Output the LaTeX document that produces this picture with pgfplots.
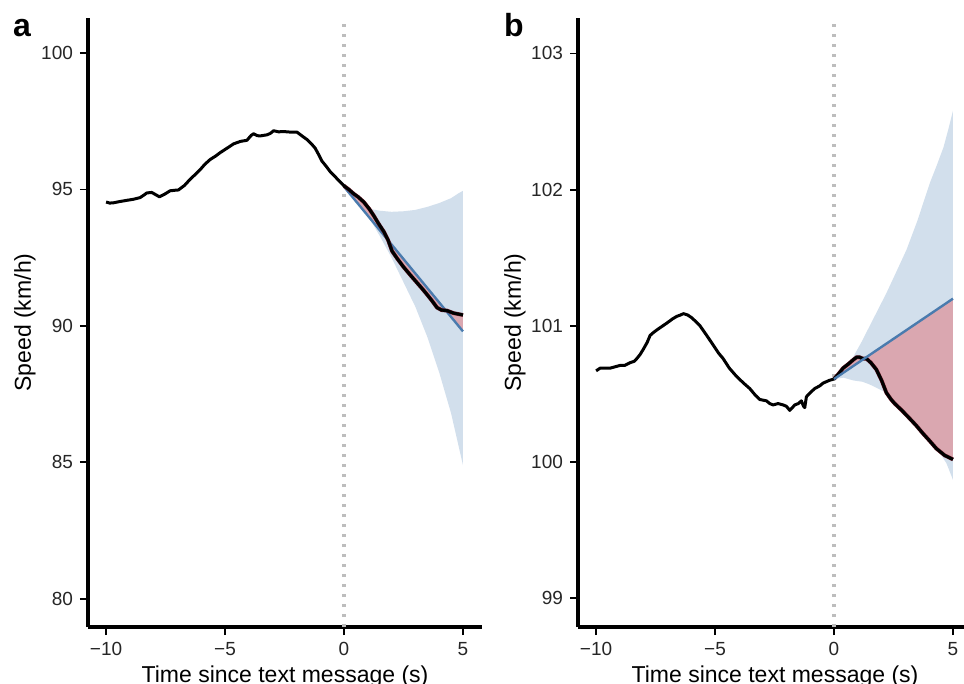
\documentclass[border=0pt]{standalone}
\usepackage{fontspec}
\setmainfont{Liberation Sans}
\usepackage{pgfplots}
\pgfplotsset{compat=1.18}
\usepgfplotslibrary{fillbetween}

\definecolor{ribbon}{HTML}{D2DFEC}
\definecolor{gapred}{HTML}{DAA7B0}
\definecolor{edgered}{HTML}{6A1A28}
\definecolor{fitblue}{HTML}{4A7BAE}
\definecolor{zerogray}{HTML}{BDBDBD}

\tikzset{lab/.style={font=\fontsize{11.5}{13}\selectfont}}
\pgfplotsset{
  panel/.style={
    width=197pt, height=304.5pt, scale only axis,
    axis x line=bottom, axis y line=left,
    axis line style={line width=1.7pt, -},
    tick align=outside, major tick length=4pt,
    tick style={line width=0.9pt, black},
    xmin=-10.76, xmax=5.8,
    xtick={-10,-5,0,5}, xticklabels={−10,−5,0,5},
    /pgf/number format/assume math mode=true,
    tick label style={font=\fontsize{9.5}{11}\selectfont, text=black!85},
    clip=false,
  },
  obs/.style={black, line width=1.5pt, line join=round},
  fit/.style={fitblue, line width=1.2pt},
  vline/.style={zerogray, line width=1.6pt, dash pattern=on 1.6pt off 3.4pt},
}

\begin{document}
\begin{tikzpicture}

% ---- panel a ----
\begin{axis}[panel, at={(44pt,-313.5pt)}, anchor=south west,
  ymin=78.97, ymax=101.28, ytick={80,85,90,95,100}]
\addplot[vline] coordinates {(0,78.97) (0,101.28)};
\addplot[name path=aup, draw=none] coordinates {
(0,95.1) (0.3,94.85) (0.6,94.6) (0.8,94.4) (1.0,94.3) (1.5,94.22) (2.0,94.18)
(2.5,94.2) (3.0,94.25) (3.5,94.36) (4.0,94.5) (4.5,94.68) (4.8,94.85) (5,94.95)};
\addplot[name path=alo, draw=none] coordinates {
(0,95.1) (0.5,94.7) (1,94.05) (1.5,93.3) (2,92.5) (2.5,91.6) (3,90.7)
(3.5,89.6) (4,88.3) (4.5,86.8) (5,84.9)};
\addplot[ribbon] fill between[of=aup and alo];
\addplot[name path=apost, draw=none] coordinates {
(0,95.13) (0.2,95.0) (0.41,94.84) (0.6,94.72) (0.83,94.54) (1.05,94.3) (1.25,94.04)
(1.45,93.75) (1.67,93.46) (1.85,93.15) (2.02,92.74) (2.25,92.45) (2.51,92.15)
(2.8,91.85) (3.07,91.58) (3.3,91.35) (3.49,91.15) (3.7,90.92) (3.91,90.67)
(4.1,90.58) (4.33,90.56) (4.6,90.47) (5,90.4)};
\addplot[name path=afit, draw=none] coordinates {(0,95.1) (5,89.8)};
\addplot[gapred] fill between[of=apost and afit];
\addplot[fit] coordinates {(0,95.1) (5,89.8)};
\addplot[edgered, line width=1.9pt] coordinates {
(0,95.13) (0.2,95.0) (0.41,94.84) (0.6,94.72) (0.83,94.54) (1.05,94.3) (1.25,94.04)
(1.45,93.75) (1.67,93.46) (1.85,93.15) (2.02,92.74) (2.25,92.45) (2.51,92.15)
(2.8,91.85) (3.07,91.58) (3.3,91.35) (3.49,91.15) (3.7,90.92) (3.91,90.67)
(4.1,90.58) (4.33,90.56) (4.6,90.47) (5,90.4)};
\addplot[obs] coordinates {
(-10,94.54) (-9.85,94.5) (-9.69,94.51) (-9.4,94.56) (-9.13,94.6) (-8.85,94.64)
(-8.57,94.7) (-8.4,94.8) (-8.29,94.87) (-8.08,94.89) (-7.9,94.8) (-7.76,94.73)
(-7.55,94.82) (-7.31,94.95) (-7.1,94.97) (-6.96,94.98) (-6.7,95.15) (-6.47,95.37)
(-6.25,95.55) (-6.05,95.72) (-5.85,95.92) (-5.62,96.1) (-5.4,96.22) (-5.2,96.35)
(-4.9,96.52) (-4.64,96.67) (-4.35,96.76) (-4.08,96.8) (-3.9,96.98) (-3.8,97.04)
(-3.65,96.97) (-3.52,96.96) (-3.24,97.0) (-3.1,97.05) (-2.96,97.15) (-2.75,97.11)
(-2.54,97.12) (-2.25,97.1) (-1.98,97.1) (-1.75,96.95) (-1.56,96.83) (-1.38,96.68)
(-1.21,96.51) (-1.05,96.25) (-0.93,96.04) (-0.75,95.85) (-0.58,95.65) (-0.3,95.4)
(0,95.13) (0.2,95.0) (0.41,94.84) (0.6,94.72) (0.83,94.54) (1.05,94.3) (1.25,94.04)
(1.45,93.75) (1.67,93.46) (1.85,93.15) (2.02,92.74) (2.25,92.45) (2.51,92.15)
(2.8,91.85) (3.07,91.58) (3.3,91.35) (3.49,91.15) (3.7,90.92) (3.91,90.67)
(4.1,90.58) (4.33,90.56) (4.6,90.47) (5,90.4)};
\node[lab, rotate=90] at (axis description cs:-0.16,0.5) {Speed (km/h)};
\node[lab] at (axis description cs:0.5,-0.081) {Time since text message (s)};
\end{axis}

% ---- panel b ----
\begin{axis}[panel, at={(289pt,-313.5pt)}, anchor=south west,
  ymin=98.79, ymax=103.26, ytick={99,100,101,102,103}]
\addplot[vline] coordinates {(0,98.79) (0,103.26)};
\addplot[name path=bup, draw=none] coordinates {
(0,100.61) (0.4,100.69) (0.8,100.77) (1.15,100.88) (1.5,101.0) (1.85,101.12)
(2.2,101.24) (2.6,101.39) (3.05,101.56) (3.5,101.77) (4.03,102.05) (4.3,102.17)
(4.6,102.31) (4.8,102.44) (5,102.58)};
\addplot[name path=blo, draw=none] coordinates {
(0,100.61) (0.4,100.62) (0.8,100.6) (1.2,100.59) (1.5,100.57) (1.85,100.54)
(2.2,100.51) (2.6,100.44) (3.04,100.35) (3.4,100.29) (3.74,100.23) (4.1,100.15)
(4.44,100.07) (4.73,99.99) (5,99.87)};
\addplot[ribbon] fill between[of=bup and blo];
\addplot[name path=bpost, draw=none] coordinates {
(0,100.61) (0.2,100.65) (0.38,100.69) (0.6,100.72) (0.8,100.75) (0.95,100.77)
(1.08,100.77) (1.2,100.76) (1.36,100.76) (1.55,100.73) (1.78,100.68) (2.0,100.6)
(2.2,100.51) (2.4,100.46) (2.55,100.43) (2.85,100.38) (3.18,100.32) (3.45,100.27)
(3.74,100.21) (4.0,100.16) (4.3,100.1) (4.65,100.05) (5,100.02)};
\addplot[name path=bfit, draw=none] coordinates {(0,100.61) (5,101.2)};
\addplot[gapred] fill between[of=bpost and bfit];
\addplot[edgered, line width=1.9pt] coordinates {
(0,100.61) (0.2,100.65) (0.38,100.69) (0.6,100.72) (0.8,100.75) (0.95,100.77)
(1.08,100.77) (1.2,100.76) (1.36,100.76) (1.55,100.73) (1.78,100.68) (2.0,100.6)
(2.2,100.51) (2.4,100.46) (2.55,100.43) (2.85,100.38) (3.18,100.32) (3.45,100.27)
(3.74,100.21) (4.0,100.16) (4.3,100.1) (4.65,100.05) (5,100.02)};
\addplot[obs] coordinates {
(-10,100.67) (-9.83,100.69) (-9.6,100.69) (-9.41,100.69) (-9.2,100.7) (-8.99,100.71)
(-8.8,100.71) (-8.57,100.73) (-8.4,100.74) (-8.29,100.76) (-8.15,100.79) (-8.01,100.83)
(-7.85,100.88) (-7.73,100.93) (-7.6,100.95) (-7.45,100.97) (-7.2,101.0) (-7.03,101.02)
(-6.8,101.05) (-6.61,101.07) (-6.45,101.08) (-6.33,101.09) (-6.15,101.08) (-5.98,101.06)
(-5.8,101.03) (-5.63,101.0) (-5.35,100.93) (-5.08,100.86) (-4.85,100.8) (-4.66,100.76)
(-4.4,100.69) (-4.1,100.63) (-3.8,100.58) (-3.54,100.54) (-3.3,100.49) (-3.12,100.46)
(-2.84,100.45) (-2.7,100.43) (-2.56,100.42) (-2.35,100.43) (-2.14,100.42) (-2.0,100.41)
(-1.86,100.38) (-1.75,100.4) (-1.65,100.42) (-1.5,100.43) (-1.37,100.45) (-1.28,100.41)
(-1.23,100.4) (-1.16,100.48) (-1.0,100.51) (-0.81,100.54) (-0.6,100.56) (-0.46,100.58)
(-0.2,100.6) (0,100.61) (0.2,100.65) (0.38,100.69) (0.6,100.72) (0.8,100.75)
(0.95,100.77) (1.08,100.77) (1.2,100.76) (1.36,100.76) (1.55,100.73) (1.78,100.68)
(2.0,100.6) (2.2,100.51) (2.4,100.46) (2.55,100.43) (2.85,100.38) (3.18,100.32)
(3.45,100.27) (3.74,100.21) (4.0,100.16) (4.3,100.1) (4.65,100.05) (5,100.02)};
\addplot[fit] coordinates {(0,100.61) (5,101.2)};
\node[lab, rotate=90] at (axis description cs:-0.16,0.5) {Speed (km/h)};
\node[lab] at (axis description cs:0.5,-0.081) {Time since text message (s)};
\end{axis}

\node[font=\fontsize{16}{18}\bfseries\selectfont, anchor=base] at (11pt,-18.5pt) {a};
\node[font=\fontsize{16}{18}\bfseries\selectfont, anchor=base] at (257pt,-18.5pt) {b};
\pgfresetboundingbox
\useasboundingbox (0,0) rectangle (482pt,-342pt);
\end{tikzpicture}
\end{document}
